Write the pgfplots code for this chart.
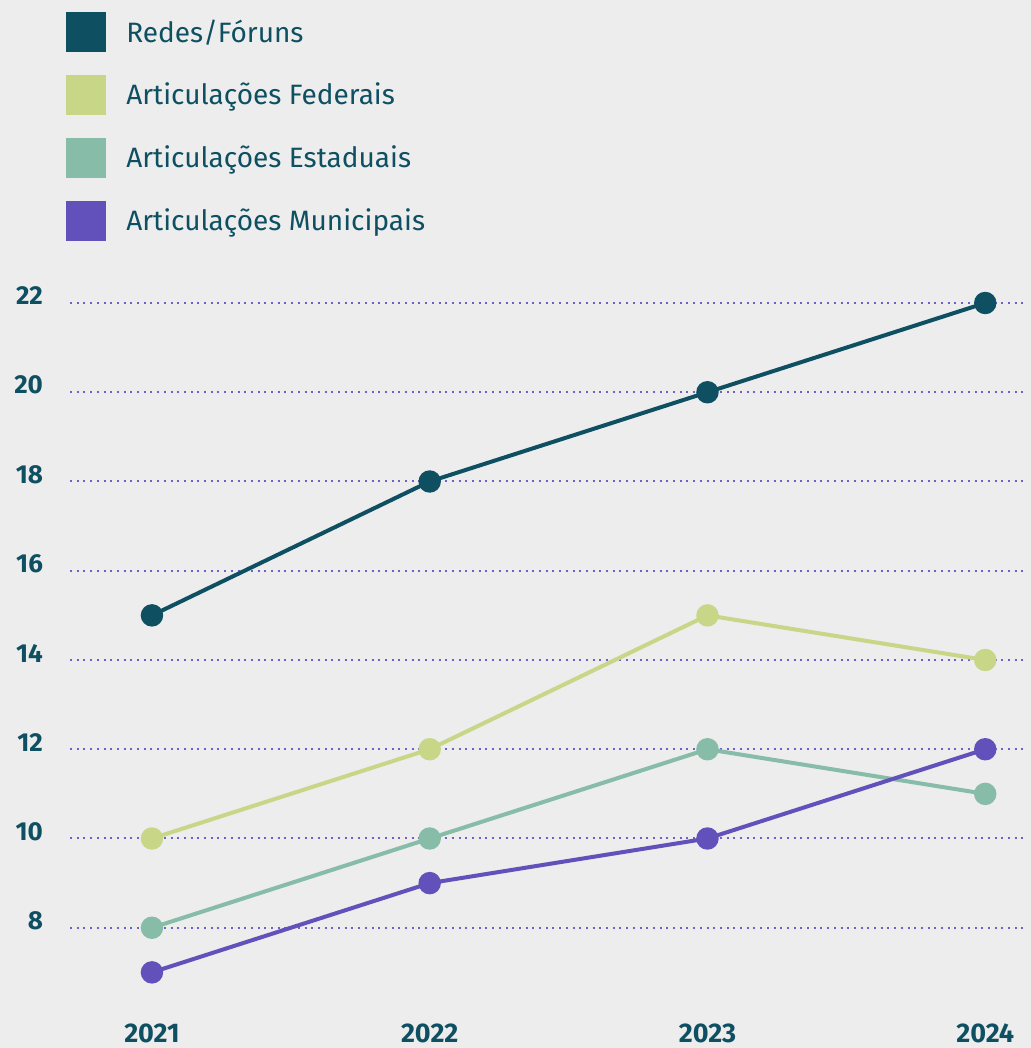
\documentclass[border=0pt]{standalone}
\usepackage{pgfplots}
\pgfplotsset{compat=1.18}
\usepackage{fontspec}
\setmainfont{Fira Sans}

\definecolor{bg}{HTML}{EDEDED}
\definecolor{txt}{HTML}{0E5062}
\definecolor{redes}{HTML}{0E5062}
\definecolor{federais}{HTML}{C8D688}
\definecolor{estaduais}{HTML}{86BCA8}
\definecolor{municipais}{HTML}{6251BA}
\definecolor{gridc}{HTML}{6F5FC9}

\begin{document}
\begin{tikzpicture}
% page = 1031x1048 px at 0.5pt per px
\path[use as bounding box, fill=bg] (0,0) rectangle (515.5pt,524pt);
\begin{axis}[
    at={(35pt,15.5pt)},
    anchor=south west,
    scale only axis,
    width=479pt,
    height=368.15pt,
    xmin=2020.705, xmax=2024.154,
    ymin=6, ymax=22.5,
    xtick={2021,2022,2023,2024},
    ytick={8,10,...,22},
    /pgf/number format/1000 sep={},
    /pgf/number format/assume math mode=true,
    axis line style={draw=none},
    major tick length=0pt,
    ymajorgrids,
    grid style={gridc, line width=1pt, dash pattern=on 1pt off 2.35pt},
    ticklabel style={font=\fontsize{13}{13}\selectfont\bfseries, text=txt},
    yticklabel style={anchor=east, xshift=-10pt, yshift=3.5pt},
    xticklabel style={anchor=center, yshift=-8pt, font=\fontsize{13.5}{13.5}\selectfont\bfseries},
    clip=false,
    legend style={
        at={(-0.0042,1.3649)},
        anchor=north west,
        draw=none, fill=none,
        inner sep=0pt,
        row sep=11.5pt,
        nodes={inner sep=0pt, text=txt},
        font=\fontsize{14}{14}\selectfont,
        /tikz/every odd column/.append style={column sep=10pt},
    },
    legend cell align=left,
    legend image code/.code={\fill[#1, draw=none] (0pt,-10pt) rectangle (20pt,10pt);},
    every axis plot/.append style={line width=2pt, mark=*, mark size=4.6pt, mark options={solid}},
]

\addplot[color=redes] coordinates {
    (2021,15) (2022,18) (2023,20) (2024,22)
};
\addplot[color=federais] coordinates {
    (2021,10) (2022,12) (2023,15) (2024,14)
};
\addplot[color=estaduais] coordinates {
    (2021,8) (2022,10) (2023,12) (2024,11)
};
\addplot[color=municipais] coordinates {
    (2021,7) (2022,9) (2023,10) (2024,12)
};

\legend{Redes/Fóruns, Articulações Federais, Articulações Estaduais, Articulações Municipais}
\end{axis}
\end{tikzpicture}
\end{document}
